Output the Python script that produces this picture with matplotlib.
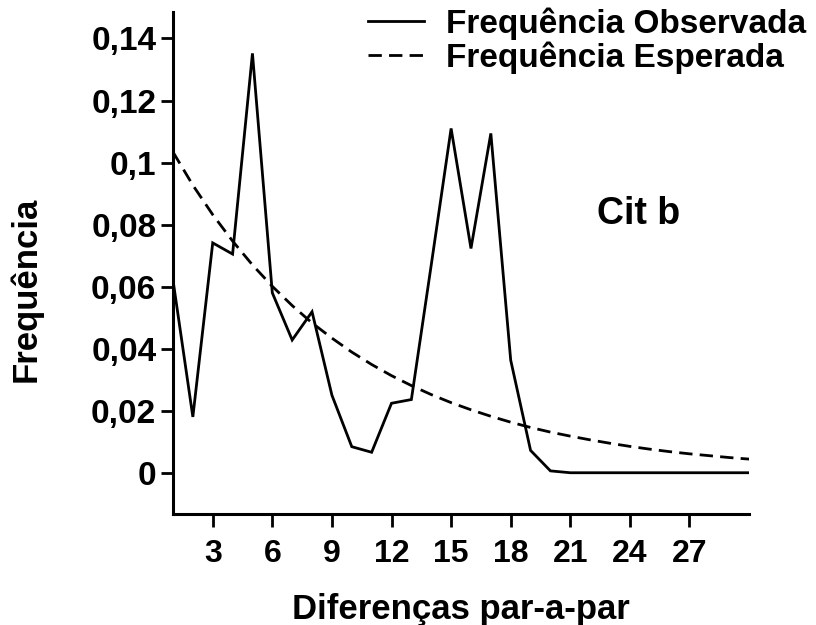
import matplotlib
matplotlib.use("Agg")
import matplotlib.pyplot as plt

plt.rcParams['font.family'] = ['Liberation Sans', 'DejaVu Sans']
plt.rcParams['font.weight'] = 'bold'

# Data
diffs = list(range(1, 31))
observed = [0.0621, 0.0180, 0.0741, 0.0705, 0.1352, 0.0580, 0.0428, 0.0519, 0.0250, 0.0084,
            0.0066, 0.0224, 0.0236, 0.0670, 0.1110, 0.0723, 0.1094, 0.0363, 0.0072, 0.0006,
            0.0000, 0.0000, 0.0000, 0.0000, 0.0000, 0.0000, 0.0000, 0.0000, 0.0000, 0.0000]
expected = [0.1034, 0.0927, 0.0832, 0.0747, 0.0670, 0.0601, 0.0539, 0.0483, 0.0434, 0.0389,
            0.0349, 0.0313, 0.0281, 0.0252, 0.0226, 0.0203, 0.0182, 0.0163, 0.0146, 0.0131,
            0.0118, 0.0106, 0.0095, 0.0085, 0.0076, 0.0068, 0.0061, 0.0055, 0.0049, 0.0044]
xticks = [3, 6, 9, 12, 15, 18, 21, 24, 27]
yticks = [0, 0.02, 0.04, 0.06, 0.08, 0.1, 0.12, 0.14]
ytick_labels = ["0", "0,02", "0,04", "0,06", "0,08", "0,1", "0,12", "0,14"]
series_names = ["Frequência Observada", "Frequência Esperada"]
panel_label = "Cit b"
xlabel = "Diferenças par-a-par"
ylabel = "Frequência"

fig = plt.figure(figsize=(8.16, 6.25), dpi=100)
ax = fig.add_axes([0.212, 0.1776, 0.706, 0.8035])

ax.plot(diffs, observed, color='black', lw=2.0, solid_joinstyle='miter',
        label=series_names[0])
ax.plot(diffs, expected, color='black', lw=2.0, dashes=(4.8, 2.6),
        label=series_names[1])

ax.set_xlim(1, 30)
ax.set_ylim(-0.0133, 0.1486)
ax.set_xticks(xticks)
ax.set_xticklabels([str(t) for t in xticks])
ax.set_yticks(yticks)
ax.set_yticklabels(ytick_labels)

for s in ['top', 'right']:
    ax.spines[s].set_visible(False)
for s in ['left', 'bottom']:
    ax.spines[s].set_linewidth(2.2)

ax.tick_params(axis='both', direction='out', length=9, width=2,
               labelsize=23, colors='black')
ax.tick_params(axis='x', pad=9)
ax.tick_params(axis='y', pad=3, labelsize=24)
for lab in ax.get_xticklabels() + ax.get_yticklabels():
    lab.set_fontweight('bold')

ax.set_xlabel(xlabel, fontsize=25, fontweight='bold', labelpad=17)
fig.text(0.032, 0.537, ylabel, rotation=90, fontsize=25, fontweight='bold',
         ha='center', va='center')

ax.text(24.45, 0.0834, panel_label, fontsize=27, fontweight='bold',
        ha='center', va='center')

leg = ax.legend(loc='upper right', bbox_to_anchor=(806 / 816, 1 - 7 / 625),
                bbox_transform=fig.transFigure, frameon=False,
                fontsize=24, handlelength=1.7, handletextpad=0.65,
                labelspacing=0.05, borderpad=0, borderaxespad=0)
for t in leg.get_texts():
    t.set_fontweight('bold')

fig.savefig('out.png', dpi=100)
